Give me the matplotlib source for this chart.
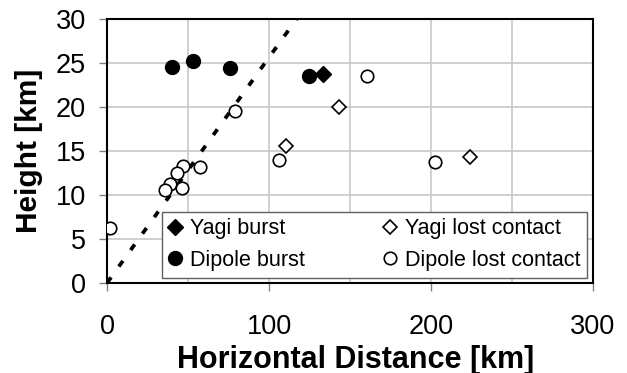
import matplotlib
matplotlib.use("Agg")
import matplotlib.pyplot as plt
from matplotlib.ticker import MultipleLocator

plt.rcParams['font.family'] = ['Liberation Sans', 'DejaVu Sans']

# Data (km)
yagi_burst_x = [133.5]
yagi_burst_y = [23.7]
dipole_burst_x = [39.9, 53.3, 75.9, 124.7]
dipole_burst_y = [24.6, 25.2, 24.4, 23.5]
yagi_lost_x = [143.4, 110.5, 224.0]
yagi_lost_y = [20.0, 15.6, 14.3]
dipole_lost_x = [160.3, 79.0, 106.2, 57.4, 47.1, 43.0, 38.9, 35.8, 46.1, 1.9, 202.5]
dipole_lost_y = [23.5, 19.5, 14.0, 13.2, 13.3, 12.5, 11.2, 10.6, 10.8, 6.2, 13.8]
line_x = [0, 117]
line_y = [0, 30]

fig = plt.figure(figsize=(6.27, 3.73), dpi=100)
ax = fig.add_axes([0.1707, 0.2413, 0.7751, 0.7077])

ax.plot(line_x, line_y, color='black', lw=2.7, linestyle=(0, (1.85, 3.55)),
        solid_capstyle='butt', dash_capstyle='butt', zorder=2)

ax.plot(yagi_burst_x, yagi_burst_y, linestyle='none', marker='D', ms=8.5,
        mfc='black', mec='black', label='Yagi burst', zorder=3)
ax.plot(yagi_lost_x, yagi_lost_y, linestyle='none', marker='D', ms=7.5,
        mfc='white', mec='black', mew=1.2, label='Yagi lost contact', zorder=3)
ax.plot(dipole_burst_x, dipole_burst_y, linestyle='none', marker='o', ms=10,
        mfc='black', mec='black', label='Dipole burst', zorder=3)
ax.plot(dipole_lost_x, dipole_lost_y, linestyle='none', marker='o', ms=9,
        mfc='white', mec='black', mew=1.2, label='Dipole lost contact', zorder=3)

ax.set_xlim(0, 300)
ax.set_ylim(0, 30)
ax.xaxis.set_major_locator(MultipleLocator(100))
ax.xaxis.set_minor_locator(MultipleLocator(50))
ax.yaxis.set_major_locator(MultipleLocator(5))
ax.grid(True, which='both', color='#c8c8c8', lw=1.2, zorder=0)
ax.set_axisbelow(True)
ax.tick_params(axis='both', which='major', direction='out', length=6, width=1,
               color='#808080', labelsize=19.5)
ax.tick_params(axis='y', which='major', pad=9)
ax.tick_params(axis='x', which='major', pad=16)
ax.tick_params(axis='x', which='minor', length=0)
for s in ax.spines.values():
    s.set_linewidth(1.5)
    s.set_color('black')

ax.set_xlabel('Horizontal Distance [km]', fontsize=22, fontweight='bold')
ax.xaxis.set_label_coords(0.512, -0.233, transform=ax.transAxes)
ax.xaxis.label.set_va('top')
ax.set_ylabel('Height [km]', fontsize=21.5, fontweight='bold', labelpad=9)

handles, labels = ax.get_legend_handles_labels()
order = [0, 2, 1, 3]
leg = ax.legend([handles[i] for i in order], [labels[i] for i in order],
                ncol=2, loc='lower left', bbox_to_anchor=(0.1125, 0.02, 0.8755, 0.24),
                mode='expand', borderaxespad=0, fontsize=15.5, frameon=True,
                fancybox=False, edgecolor='#606060', framealpha=1,
                handlelength=0.6, handletextpad=0.4, borderpad=0.32,
                labelspacing=0.48, columnspacing=1.0)
leg.get_frame().set_linewidth(1.0)

fig.savefig('out.png', dpi=100)
